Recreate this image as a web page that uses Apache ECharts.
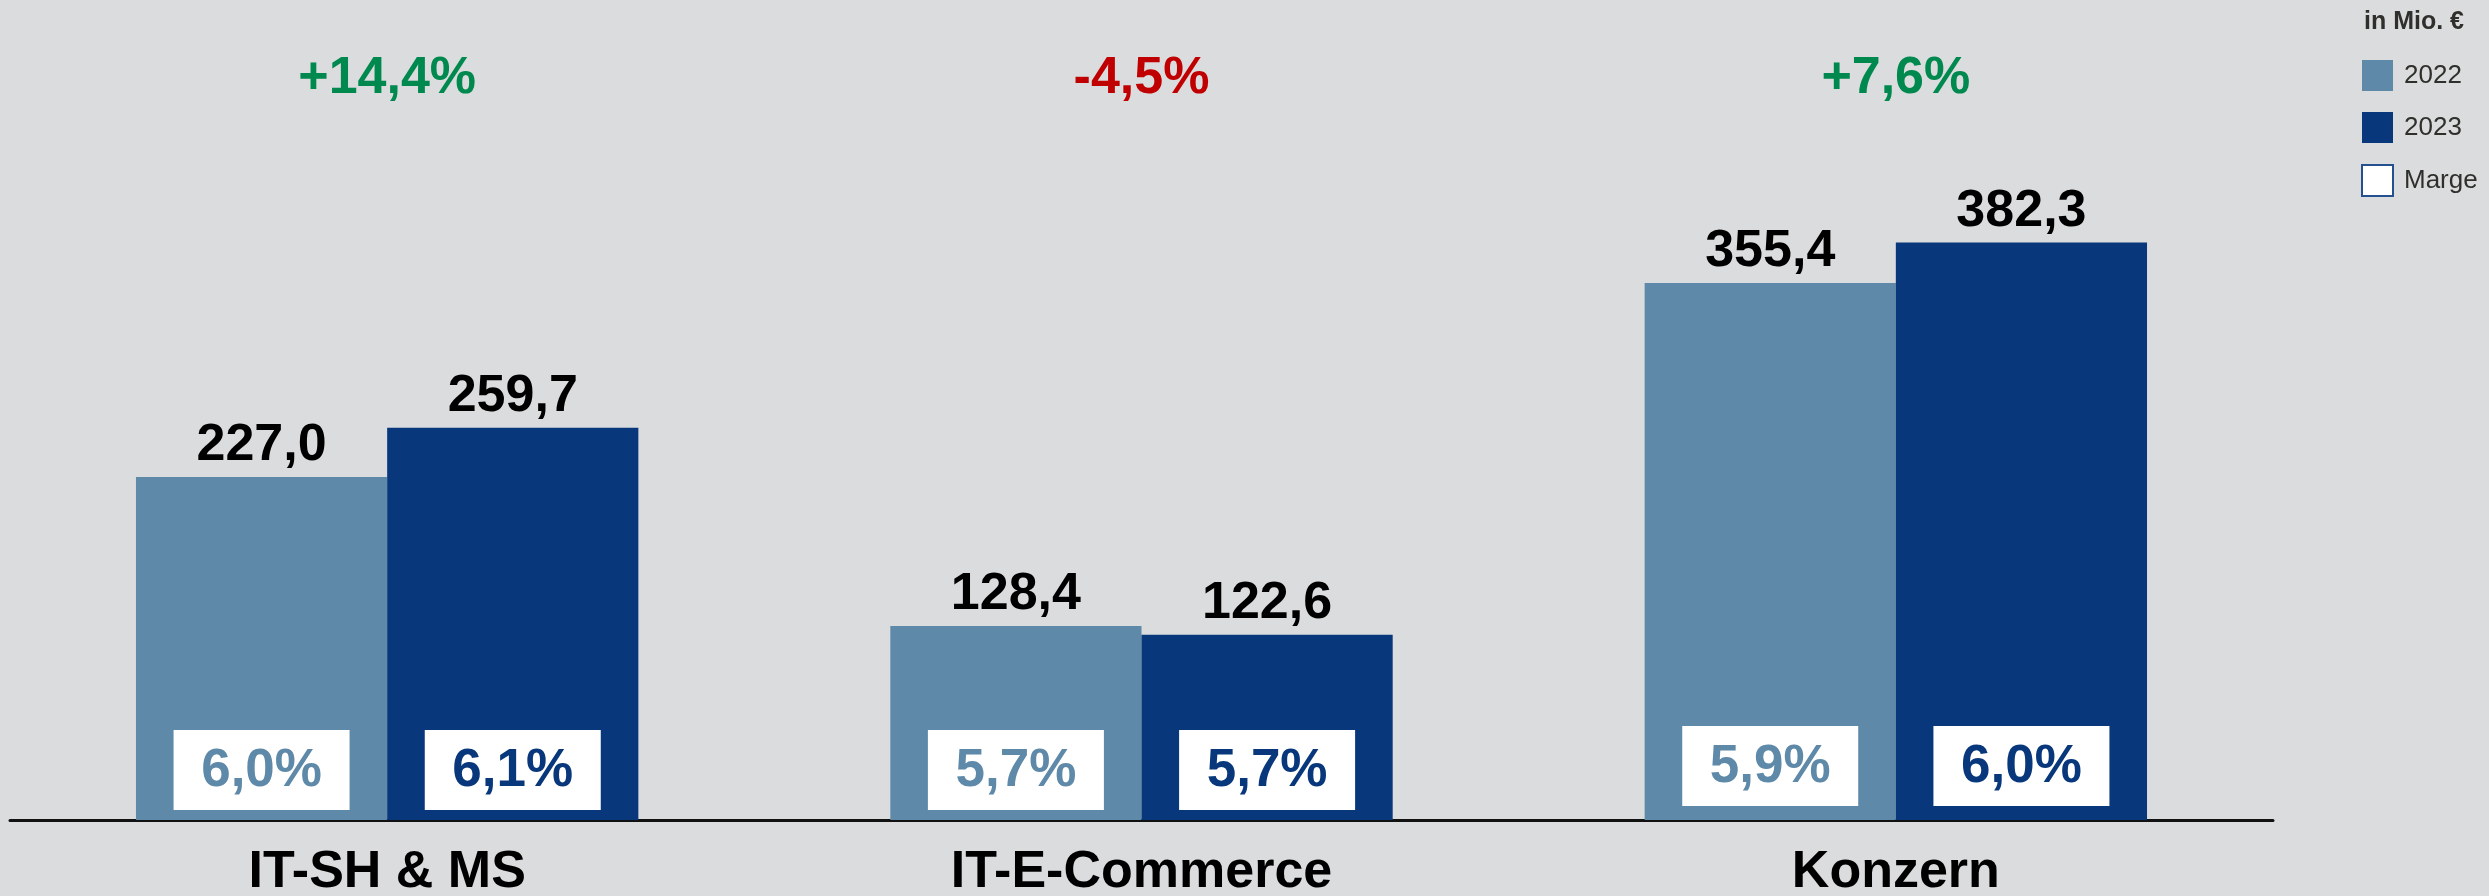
<!DOCTYPE html>
<html>
<head>
<meta charset="utf-8">
<script src="https://cdn.jsdelivr.net/npm/echarts@6/dist/echarts.min.js"></script>
<style>
  html, body { margin: 0; padding: 0; background: #dbdcde; }
  #chart { width: 2489px; height: 896px; }
</style>
</head>
<body>
<div id="chart"></div>
<script>
// ---- data ----
const categories = ['IT-SH & MS', 'IT-E-Commerce', 'Konzern'];
const seriesNames = ['2022', '2023'];
const values2022 = [227.0, 128.4, 355.4];
const values2023 = [259.7, 122.6, 382.3];
const margins2022 = [6.0, 5.7, 5.9];
const margins2023 = [6.1, 5.7, 6.0];
const growthLabels = ['+14,4%', '-4,5%', '+7,6%'];
const unitLabel = 'in Mio. €';

// ---- styling ----
const COLORS = ['#5e89a8', '#08387b'];
const FONT = '"Liberation Sans", Arial, Helvetica, sans-serif';
const CAT_GAP = 0.334;

const fmt = v => v.toFixed(1).replace('.', ',');

const marginData = [];
categories.forEach((c, i) => {
  marginData.push([i, 0, margins2022[i]]);
  marginData.push([i, 1, margins2023[i]]);
});

function renderMargin(params, api) {
  const cat = api.value(0), yr = api.value(1), m = api.value(2);
  const base = api.coord([cat, 0]);
  const band = api.size([1, 0])[0];
  const bw = band * (1 - CAT_GAP) / 2;
  const cx = base[0] + (yr - 0.5) * bw;
  const w = 176, h = 80;
  const bottom = base[1] - (cat === 2 ? 14 : 10);
  return {
    type: 'group',
    children: [
      { type: 'rect', shape: { x: cx - w / 2, y: bottom - h, width: w, height: h }, style: { fill: '#ffffff' } },
      { type: 'text', style: { text: fmt(m) + '%', x: cx, y: bottom - h / 2 + 1, align: 'center', verticalAlign: 'middle',
        fill: COLORS[yr], font: 'bold 53px ' + FONT } }
    ]
  };
}

const chart = echarts.init(document.getElementById('chart'), null, { renderer: 'canvas' });

const barLabel = {
  show: true, position: 'top', distance: 5,
  fontFamily: FONT, fontWeight: 'bold', fontSize: 52, color: '#000',
  formatter: p => fmt(p.value)
};

chart.setOption({
  backgroundColor: '#dbdcde',
  animation: false,
  title: {
    text: unitLabel, left: 2364, top: 10, padding: 0,
    textStyle: { fontFamily: FONT, fontSize: 25, fontWeight: 'bold', color: '#2f302b' }
  },
  legend: {
    orient: 'vertical', left: 2361, top: 60, padding: 0,
    itemWidth: 31, itemHeight: 31, itemGap: 21,
    textStyle: { fontFamily: FONT, fontSize: 26, color: '#2f302b', padding: [0, 0, 0, 6] },
    data: [
      { name: '2022', icon: 'rect' },
      { name: '2023', icon: 'rect' },
      { name: 'Marge', icon: 'rect', itemStyle: { color: '#ffffff', borderColor: '#24508f', borderWidth: 2 } }
    ]
  },
  grid: { left: 10, right: 216, top: 125, bottom: 76, containLabel: false, outerBoundsMode: 'none' },
  xAxis: [
    {
      type: 'category', data: categories, position: 'bottom',
      axisLine: { show: true, lineStyle: { color: '#111', width: 3 } },
      axisTick: { show: false },
      axisLabel: { fontFamily: FONT, fontSize: 52, fontWeight: 'bold', color: '#000', margin: 27 }
    },
    {
      type: 'category', data: growthLabels, position: 'top',
      axisLine: { show: false }, axisTick: { show: false },
      axisLabel: {
        margin: 20,
        formatter: v => (v.charAt(0) === '-' ? '{neg|' : '{pos|') + v + '}',
        rich: {
          pos: { fontFamily: FONT, fontSize: 52, fontWeight: 'bold', color: '#00894f' },
          neg: { fontFamily: FONT, fontSize: 52, fontWeight: 'bold', color: '#c00000' }
        }
      }
    }
  ],
  yAxis: { type: 'value', min: 0, max: 460, show: false, splitLine: { show: false } },
  series: [
    {
      name: seriesNames[0], type: 'bar', data: values2022, barGap: '0%', barCategoryGap: (CAT_GAP * 100) + '%',
      itemStyle: { color: COLORS[0] }, label: barLabel
    },
    {
      name: seriesNames[1], type: 'bar', data: values2023, barGap: '0%', barCategoryGap: (CAT_GAP * 100) + '%',
      itemStyle: { color: COLORS[1] }, label: barLabel
    },
    {
      name: 'Marge', type: 'custom', coordinateSystem: 'cartesian2d',
      renderItem: renderMargin, data: marginData, encode: { x: 0, y: 2 }, z: 5,
      itemStyle: { color: '#ffffff' }
    }
  ]
});
</script>
</body>
</html>
